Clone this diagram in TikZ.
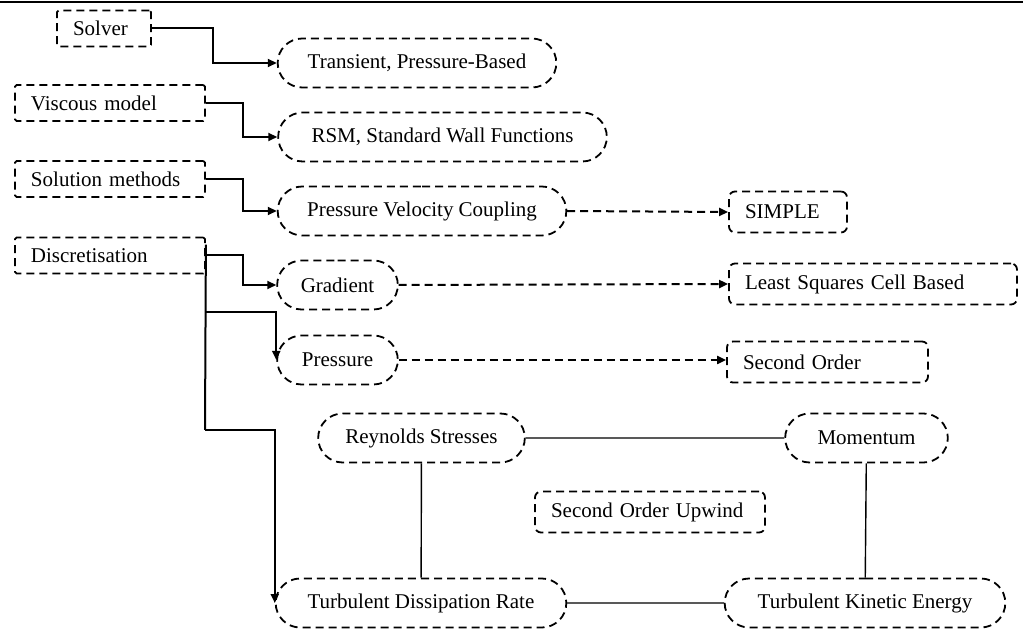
\documentclass[tikz,border=0pt]{standalone}
\usepackage{fontspec}
\setmainfont{Liberation Serif}
\usepackage{tikz}
\usetikzlibrary{shapes.misc, arrows.meta}

\tikzset{
  param/.style={draw, dash pattern=on 4pt off 2.5pt, line width=0.9pt, rounded corners=0.8pt,
    text width=#1, align=left, inner xsep=8pt, minimum height=18pt},
  setting/.style={draw, dash pattern=on 4pt off 2.5pt, line width=0.9pt, rounded corners=3pt,
    text width=#1, align=left, inner xsep=8pt, minimum height=20.5pt},
  choice/.style={draw, dash pattern=on 4pt off 2.5pt, line width=0.9pt, rounded rectangle,
    minimum width=#1, minimum height=24.5pt},
  arr/.style={-{Triangle[length=4.5pt,width=4pt]}, line width=1pt},
  darr/.style={arr, dash pattern=on 4pt off 2.5pt},
  link/.style={line width=0.7pt}
}

\begin{document}
\begin{tikzpicture}[x=0.5pt, y=-0.5pt, font=\fontsize{10.5}{12}\selectfont]
    \useasboundingbox (0,0) rectangle (1023,630);
    % Linha de topo
    \draw[line width=1pt] (0,2) -- (1023,2);
    % Parametros
    \node[param=31pt] (solver) at (104,28.5) {Solver};
    \node[param=79pt] (viscous) at (110,103) {Viscous model};
    \node[param=79pt] (solution) at (110,179) {Solution methods};
    \node[param=79pt] (discret) at (110,255.5) {Discretisation};
    % Escolhas
    \node[choice=146pt] (transient) at (417,63) {Transient, Pressure-Based};
    \node[choice=171pt] (rsm) at (442.5,137) {RSM, Standard Wall Functions};
    \node[choice=151pt] (pvc) at (422,211) {Pressure Velocity Coupling};
    \node[choice=67pt] (gradient) at (337.5,285) {Gradient};
    \node[choice=67pt] (pressure) at (337.5,360) {Pressure};
    \node[choice=110pt] (reynolds) at (421.5,438) {Reynolds Stresses};
    \node[choice=88pt] (momentum) at (866.5,438) {Momentum};
    \node[choice=152pt] (tdr) at (421,603) {Turbulent Dissipation Rate};
    \node[choice=147pt] (tke) at (865,603) {Turbulent Kinetic Energy};
    % Esquemas
    \node[setting=43pt] (simple) at (788,212) {SIMPLE};
    \node[setting=128pt] (lsq) at (873,284) {Least Squares Cell Based};
    \node[setting=84.5pt] (second) at (827.5,362) {Second Order};
    \node[setting=99pt] (upwind) at (650,512) {Second Order Upwind};
    % Setas
    \draw[arr] (solver.east) -- ++(61,0) |- (transient.west);
    \draw[arr] (viscous.east) -- ++(37,0) |- (rsm.west);
    \draw[arr] (solution.east) -- ++(37,0) |- (pvc.west);
    \draw[arr] (discret.east) -- ++(37,0) |- (gradient.west);
    \coordinate (split1) at (205,312);
    \coordinate (split2) at (205,430);
    \draw[line width=1pt] ([yshift=-4pt]discret.north east) -- (split2);
    \draw[arr] (split1) -| (pressure.west);
    \draw[arr] (split2) -| (tdr.west);
    \draw[darr] (pvc.east) -- (simple.west);
    \draw[darr] (gradient.east) -- (lsq.west);
    \draw[darr] (pressure.east) -- (pressure.east -| second.west);
    % Ligacoes
    \draw[link] (reynolds) -- (momentum);
    \draw[link] (reynolds) -- (tdr);
    \draw[link] (momentum) -- (tke);
    \draw[link] (tdr) -- (tke);
\end{tikzpicture}
\end{document}
